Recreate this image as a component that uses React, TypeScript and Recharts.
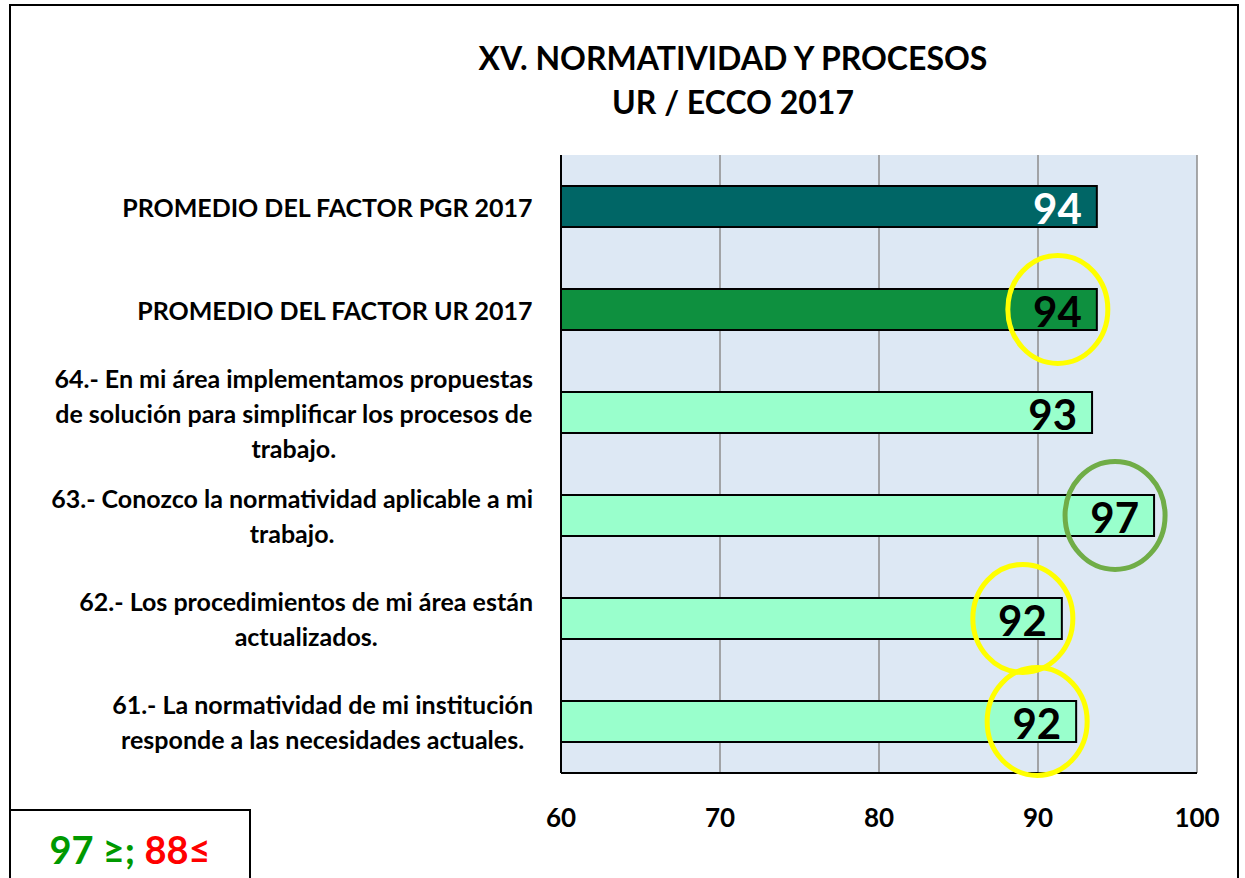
import React from "react";
import { BarChart, Bar, XAxis, YAxis, CartesianGrid, LabelList, Cell } from "recharts";

const categories = [
  "PROMEDIO DEL FACTOR PGR 2017",
  "PROMEDIO DEL FACTOR UR 2017",
  "64.- En mi área implementamos propuestas\nde solución para simplificar los procesos de\ntrabajo.",
  "63.- Conozco la normatividad aplicable a mi\ntrabajo.",
  "62.- Los procedimientos de mi área están\nactualizados.",
  "61.- La normatividad de mi institución\nresponde a las necesidades actuales.",
];
const values = [93.7, 93.7, 93.4, 97.3, 91.5, 92.4];
const barColors = ["#006666", "#0E903F", "#99FFCC", "#99FFCC", "#99FFCC", "#99FFCC"];
const labelColors = ["#FFFFFF", "#000000", "#000000", "#000000", "#000000", "#000000"];
const highlights = ["", "#FFFF00", "", "#70AD47", "#FFFF00", "#FFFF00"];
const xTicks = [60, 70, 80, 90, 100];

const FONT = "Lato, 'Open Sans', sans-serif";

const data = categories.map((c, i) => ({ name: c, value: values[i] }));

let canvasCtx: CanvasRenderingContext2D | null = null;
function measure(text: string, font: string): number {
  if (!canvasCtx) {
    const c = document.createElement("canvas");
    canvasCtx = c.getContext("2d");
  }
  if (!canvasCtx) return text.length * 10;
  canvasCtx.font = font;
  return canvasCtx.measureText(text).width;
}

const Y_FONT_SIZE = 25;
const Y_LINE = 35;

const YTick = (props: any) => {
  const { y, payload } = props;
  const lines = String(payload.value).split("\n");
  const font = `bold ${Y_FONT_SIZE}px Lato`;
  const w = Math.max(...lines.map((l) => measure(l, font)));
  const right = 533;
  const cx = right - w / 2;
  const start = y - ((lines.length - 1) * Y_LINE) / 2;
  return (
    <g>
      {lines.map((l, i) => (
        <text
          key={i}
          x={cx}
          y={start + i * Y_LINE}
          textAnchor="middle"
          dominantBaseline="central"
          fontFamily={FONT}
          fontWeight="bold"
          fontSize={Y_FONT_SIZE}
          fill="#000"
        >
          {l}
        </text>
      ))}
    </g>
  );
};

const XTick = (props: any) => {
  const { x, y, payload } = props;
  return (
    <text
      x={x}
      y={y + 36}
      textAnchor="middle"
      dominantBaseline="central"
      fontFamily={FONT}
      fontWeight="bold"
      fontSize={26}
      fill="#000"
    >
      {payload.value}
    </text>
  );
};

const ValueLabel = (props: any) => {
  const { x, y, width, height, value, index } = props;
  const endX = x + width;
  const cy = y + height / 2;
  const hl = highlights[index];
  return (
    <g>
      <text
        x={endX - 15}
        y={cy + 2}
        textAnchor="end"
        dominantBaseline="central"
        fontFamily={FONT}
        fontWeight="bold"
        fontSize={42}
        fill={labelColors[index]}
      >
        {Math.round(value)}
      </text>
      {hl ? (
        <ellipse cx={endX - 39} cy={cy} rx={50} ry={54} fill="none" stroke={hl} strokeWidth={5} />
      ) : null}
    </g>
  );
};

export default function App() {
  return (
    <div
      style={{
        position: "absolute",
        left: 0,
        top: 0,
        width: 1245,
        height: 878,
        overflow: "hidden",
        background: "#fff",
        fontFamily: FONT,
      }}
    >
      <div
        style={{
          position: "absolute",
          left: 9,
          top: 4,
          width: 1230,
          height: 950,
          border: "2px solid #000",
          boxSizing: "border-box",
        }}
      />
      <div
        style={{
          position: "absolute",
          left: 233,
          top: 36,
          width: 1000,
          textAlign: "center",
          fontWeight: "bold",
          fontSize: 32,
          lineHeight: "44px",
          color: "#000",
        }}
      >
        XV. NORMATIVIDAD Y PROCESOS
        <br />
        UR / ECCO 2017
      </div>
      <div style={{ position: "absolute", left: 0, top: 0 }}>
        <BarChart
          width={1245}
          height={878}
          data={data}
          layout="vertical"
          margin={{ top: 155, right: 48, bottom: 65, left: 0 }}
          barCategoryGap="30%"
        >
          <CartesianGrid horizontal={false} vertical={true} stroke="#8C8C8C" strokeWidth={1.5} fill="#DDE8F4" />
          <XAxis
            type="number"
            domain={[60, 100]}
            ticks={xTicks}
            allowDataOverflow
            height={40}
            axisLine={{ stroke: "#000", strokeWidth: 2 }}
            tickLine={false}
            tick={<XTick />}
          />
          <YAxis
            type="category"
            dataKey="name"
            width={561}
            axisLine={{ stroke: "#000", strokeWidth: 2 }}
            tickLine={false}
            tick={<YTick />}
            interval={0}
          />
          <Bar dataKey="value" isAnimationActive={false} stroke="#000" strokeWidth={2}>
            {data.map((d, i) => (
              <Cell key={i} fill={barColors[i]} />
            ))}
            <LabelList dataKey="value" content={<ValueLabel />} />
          </Bar>
        </BarChart>
      </div>
      <div
        style={{
          position: "absolute",
          left: 9,
          top: 809,
          width: 242,
          height: 90,
          border: "2px solid #000",
          boxSizing: "border-box",
          background: "#fff",
        }}
      >
        <div
          style={{
            position: "absolute",
            left: 0,
            width: 238,
            top: 17,
            textAlign: "center",
            fontWeight: "bold",
            fontSize: 38,
            lineHeight: "42px",
          }}
        >
          <span style={{ color: "#009900" }}>97 ≥; </span>
          <span style={{ color: "#FF0000" }}>88≤</span>
        </div>
      </div>
    </div>
  );
}
